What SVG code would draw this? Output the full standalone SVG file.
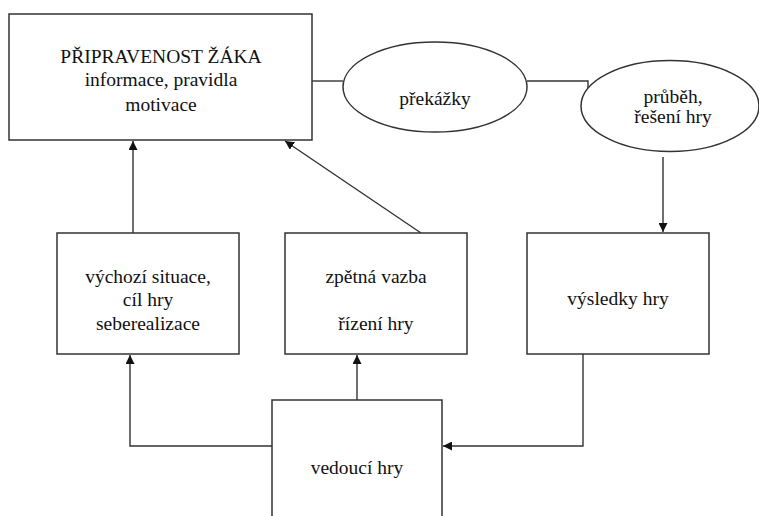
<svg xmlns="http://www.w3.org/2000/svg" width="759" height="516" viewBox="0 0 759 516">
<style>
.box{fill:#fff;stroke:#333;stroke-width:1.5}
.ln{fill:none;stroke:#333;stroke-width:1.4}
.t{font-family:"Liberation Serif","Times New Roman",serif;font-size:19.5px;fill:#111;text-anchor:middle}
</style>
<defs>
<marker id="ah" viewBox="0 0 10 10" refX="10" refY="5" markerWidth="9" markerHeight="9" markerUnits="userSpaceOnUse" orient="auto">
<path d="M0,0 L10,5 L0,10 z" fill="#111"/>
</marker>
</defs>
<rect width="759" height="516" fill="#fff"/>
<g id="connectors">
<line class="ln" x1="312" y1="81" x2="343" y2="81"/>
<polyline class="ln" points="527,81 588,81 588,91"/>
<line class="ln" x1="663" y1="157" x2="663" y2="232" marker-end="url(#ah)"/>
<line class="ln" x1="133" y1="233" x2="133" y2="141" marker-end="url(#ah)"/>
<line class="ln" x1="421" y1="233" x2="285" y2="141" marker-end="url(#ah)"/>
<line class="ln" x1="357" y1="400" x2="357" y2="355" marker-end="url(#ah)"/>
<polyline class="ln" points="272,446 130,446 130,355" marker-end="url(#ah)"/>
<polyline class="ln" points="583,354 583,446 443,446" marker-end="url(#ah)"/>
</g>
<g id="pripravenost">
<rect class="box" x="9" y="14" width="303" height="126"/>
<text class="t" x="161" y="63">PŘIPRAVENOST ŽÁKA</text>
<text class="t" x="161" y="86">informace, pravidla</text>
<text class="t" x="161" y="111">motivace</text>
</g>
<g id="prekazky">
<ellipse class="box" cx="435" cy="87" rx="92" ry="45"/>
<text class="t" x="435" y="105">překážky</text>
</g>
<g id="prubeh">
<ellipse class="box" cx="670" cy="106" rx="89" ry="45.5"/>
<text class="t" x="673" y="103">průběh,</text>
<text class="t" x="673" y="123">řešení hry</text>
</g>
<g id="vychozi">
<rect class="box" x="57" y="233" width="182" height="121"/>
<text class="t" x="148" y="283">výchozí situace,</text>
<text class="t" x="148" y="306">cíl hry</text>
<text class="t" x="148" y="330">seberealizace</text>
</g>
<g id="zpetna">
<rect class="box" x="285" y="233" width="182" height="121"/>
<text class="t" x="376" y="283">zpětná vazba</text>
<text class="t" x="376" y="330">řízení hry</text>
</g>
<g id="vysledky">
<rect class="box" x="527" y="233" width="182" height="121"/>
<text class="t" x="618" y="305">výsledky hry</text>
</g>
<g id="vedouci">
<rect class="box" x="272" y="400" width="170" height="130"/>
<text class="t" x="357" y="474">vedoucí hry</text>
</g>
</svg>
